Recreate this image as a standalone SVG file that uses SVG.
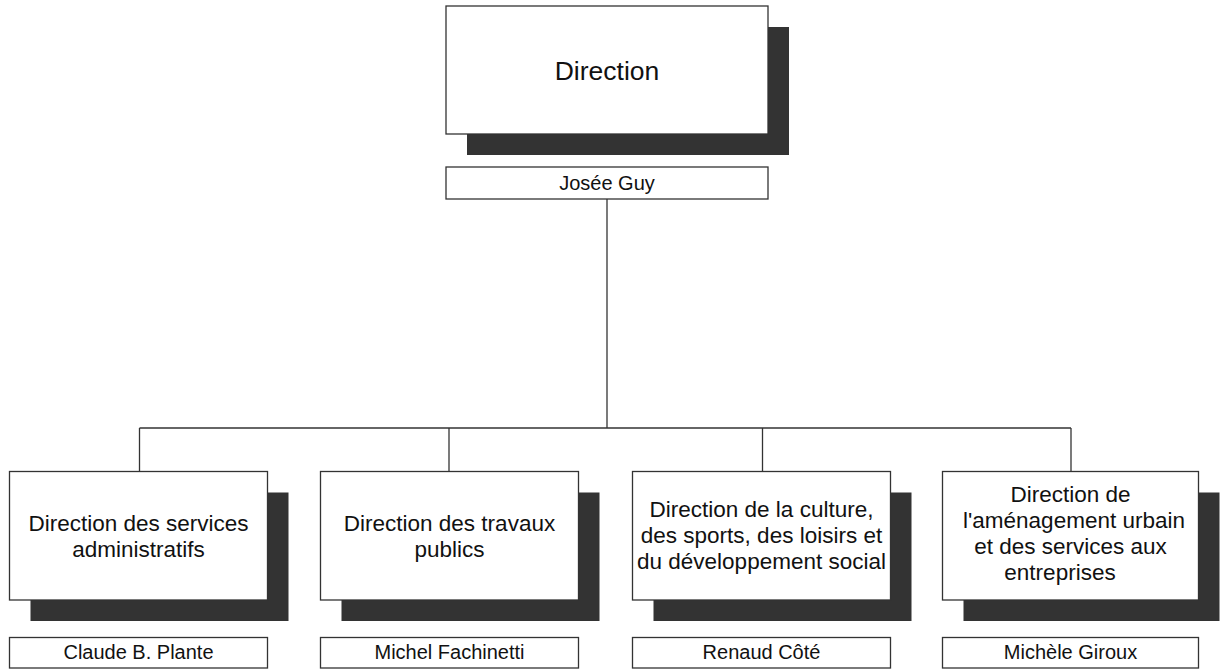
<svg xmlns="http://www.w3.org/2000/svg" width="1221" height="669" viewBox="0 0 1221 669">
<style>
.bg{fill:#ffffff}
.shadow{fill:#333333;stroke:none}
.box{fill:#ffffff;stroke:#333333;stroke-width:1.3}
.line{stroke:#333333;stroke-width:1.3;fill:none}
text{font-family:"Liberation Sans",Arial,sans-serif;fill:#111111;text-anchor:middle}
.title{font-size:26.5px}
.unit{font-size:22.5px}
.name{font-size:20px}
</style>
<rect class="bg" x="0" y="0" width="1221" height="669"/>
<g id="connectors">
<line class="line" x1="607" y1="199" x2="607" y2="428"/>
<line class="line" x1="139.5" y1="428" x2="1071" y2="428"/>
<line class="line" x1="139.5" y1="428" x2="139.5" y2="471.5"/>
<line class="line" x1="449" y1="428" x2="449" y2="471.5"/>
<line class="line" x1="762.5" y1="428" x2="762.5" y2="471.5"/>
<line class="line" x1="1071" y1="428" x2="1071" y2="471.5"/>
</g>
<g id="direction">
<rect class="shadow" x="467" y="27" width="322" height="128"/>
<rect class="box" x="446" y="6" width="322" height="128"/>
<text class="title" x="607" y="80">Direction</text>
</g>
<g id="direction-name">
<rect class="box" x="446" y="167" width="322" height="32"/>
<text class="name" x="607" y="190">Josée Guy</text>
</g>
<g id="admin">
<rect class="shadow" x="30.5" y="492.5" width="258" height="128.5"/>
<rect class="box" x="9.5" y="471.5" width="258" height="128.5"/>
<text class="unit" x="138.5" y="530.5">Direction des services</text>
<text class="unit" x="138.5" y="556.5">administratifs</text>
</g>
<g id="admin-name">
<rect class="box" x="9.5" y="637.5" width="258" height="30.5"/>
<text class="name" x="138.5" y="659">Claude B. Plante</text>
</g>
<g id="travaux">
<rect class="shadow" x="341.5" y="492.5" width="258" height="128.5"/>
<rect class="box" x="320.5" y="471.5" width="258" height="128.5"/>
<text class="unit" x="449.5" y="530.5">Direction des travaux</text>
<text class="unit" x="449.5" y="556.5">publics</text>
</g>
<g id="travaux-name">
<rect class="box" x="320.5" y="637.5" width="258" height="30.5"/>
<text class="name" x="449.5" y="659">Michel Fachinetti</text>
</g>
<g id="culture">
<rect class="shadow" x="653.5" y="492.5" width="258" height="128.5"/>
<rect class="box" x="632.5" y="471.5" width="258" height="128.5"/>
<text class="unit" x="761.5" y="517">Direction de la culture,</text>
<text class="unit" x="761.5" y="543">des sports, des loisirs et</text>
<text class="unit" x="761.5" y="569">du développement social</text>
</g>
<g id="culture-name">
<rect class="box" x="632.5" y="637.5" width="258" height="30.5"/>
<text class="name" x="761.5" y="659">Renaud Côté</text>
</g>
<g id="amenagement">
<rect class="shadow" x="963.5" y="492.5" width="256" height="128.5"/>
<rect class="box" x="942.5" y="471.5" width="256" height="128.5"/>
<text class="unit" x="1070.5" y="502">Direction de</text>
<text class="unit" x="1074" y="528">l'aménagement urbain</text>
<text class="unit" x="1070.5" y="554">et des services aux</text>
<text class="unit" x="1060" y="580">entreprises</text>
</g>
<g id="amenagement-name">
<rect class="box" x="942.5" y="637.5" width="256" height="30.5"/>
<text class="name" x="1070.5" y="659">Michèle Giroux</text>
</g>
</svg>
